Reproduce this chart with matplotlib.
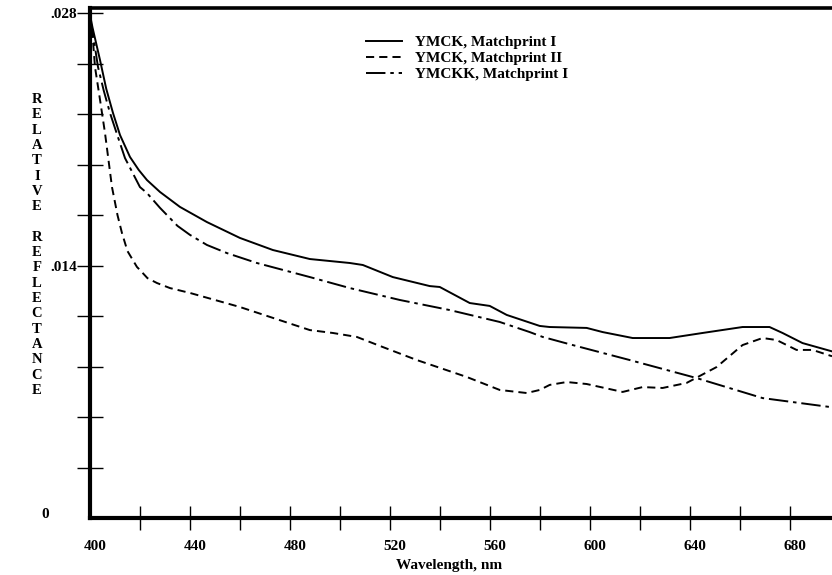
import matplotlib
matplotlib.use("Agg")
import matplotlib.pyplot as plt
import matplotlib.transforms as mtransforms

# reflectance spectra
wl_mp1 = [400, 401, 404, 406.5, 409.2, 412, 416, 419.5, 422.8, 428, 436, 446.8, 460,
          473.2, 488, 504, 509.2, 521.2, 536, 540, 552, 560, 566.8, 580, 584, 598.8,
          605.2, 617.2, 632, 645.2, 661.2, 672, 677.2, 685.2, 697]
r_mp1 = [0.0279, 0.0272, 0.0254, 0.0238, 0.02246, 0.02124, 0.02002, 0.01930, 0.01874,
         0.01808, 0.01725, 0.01641, 0.01553, 0.01486, 0.01436, 0.01414, 0.01403,
         0.01336, 0.01286, 0.01281, 0.01192, 0.01176, 0.01126, 0.01065, 0.01059,
         0.01054, 0.01031, 0.00998, 0.00998, 0.01026, 0.01059, 0.01059, 0.01026,
         0.00970, 0.00924]

wl_mp2 = [400, 401, 402, 404, 406, 408.8, 411, 412.8, 415, 418.8, 420, 423, 426.8, 432,
          440, 460, 488, 497.2, 506.8, 517.2, 530.8, 550.8, 564, 574.8, 580, 584,
          590.8, 598.8, 613.2, 621.2, 629.2, 638.8, 650.8, 661.2, 669.2, 674.8, 682.8,
          689.2, 697]
r_mp2 = [0.0278, 0.0268, 0.02501, 0.0232, 0.02135, 0.01835, 0.0168, 0.01580, 0.0148,
         0.01392, 0.01375, 0.01330, 0.01303, 0.01275, 0.01248, 0.01170, 0.01042,
         0.01026, 0.01004, 0.00948, 0.00876, 0.00782, 0.00710, 0.00693, 0.00710,
         0.00738, 0.00754, 0.00743, 0.00699, 0.00726, 0.00721, 0.00749, 0.00837,
         0.00959, 0.00998, 0.00987, 0.00932, 0.00932, 0.00897]

wl_kk = [400, 401, 403.2, 405.5, 408, 411, 414, 420, 422.8, 428, 435, 440, 446.8,
         454.8, 466.8, 488, 504, 524, 544, 564, 576, 581.2, 593.2, 616, 642.8, 669.2,
         697]
r_kk = [0.0277, 0.0270, 0.02501, 0.0237, 0.02246, 0.0212, 0.01996, 0.01835, 0.01802,
        0.0172, 0.0162, 0.0157, 0.01514, 0.01469, 0.01414, 0.01336, 0.01275, 0.01209,
        0.01153, 0.01087, 0.01031, 0.01004, 0.00959, 0.00876, 0.00776, 0.00665,
        0.00614]

series_names = ["YMCK, Matchprint I", "YMCK, Matchprint II", "YMCKK, Matchprint I"]
x_ticks = list(range(420, 700, 20))
x_labels = [400, 440, 480, 520, 560, 600, 640, 680]
y_ticks = [0.0028 * i for i in range(1, 11)]
y_labels = {0.014: ".014", 0.028: ".028"}

serif = ["Liberation Serif", "DejaVu Serif"]
plt.rcParams["font.family"] = serif
plt.rcParams["font.weight"] = "bold"

fig = plt.figure(figsize=(8.32, 5.75), dpi=100)
ax = fig.add_axes([90 / 832, 1 - 518 / 575, 1 - 90 / 832, 510 / 575])

ax.plot(wl_mp1, r_mp1, color="black", lw=1.4, label=series_names[0])
ax.plot(wl_mp2, r_mp2, color="black", lw=1.4, dashes=(4.2, 2.6), label=series_names[1])
ax.plot(wl_kk, r_kk, color="black", lw=1.4, dashes=(10, 2.5, 1.8, 2.5), label=series_names[2])

ax.set_xlim(400, 697)
ax.set_ylim(0, 0.02828)

for side in ("left", "bottom"):
    ax.spines[side].set_linewidth(3.0)
ax.spines["top"].set_linewidth(2.6)
ax.spines["right"].set_visible(False)

# ticks straddle the axis lines
ax.set_xticks(x_ticks)
ax.set_xticklabels([])
ax.tick_params(axis="x", direction="inout", length=17, width=1.0, color="black")
ax.set_yticks(y_ticks)
ax.set_yticklabels([y_labels.get(round(v, 4), "") for v in y_ticks])
ax.tick_params(axis="y", direction="inout", length=19, width=1.0, color="black",
               labelsize=11, pad=0)

xlab_tf = mtransforms.blended_transform_factory(ax.transData, fig.transFigure)
for v in x_labels:
    ax.text(v + 2, 1 - 547 / 575, str(v), transform=xlab_tf, ha="center", va="center",
            fontsize=11, fontweight="bold")

ylab_tf = mtransforms.blended_transform_factory(fig.transFigure, ax.transData)
ax.text(45 / 832, 0.0002, "0", transform=ylab_tf, ha="center", va="center",
        fontsize=11, fontweight="bold")

fig.text(449 / 832, 1 - 566 / 575, "Wavelength, nm", ha="center", va="center",
         fontsize=11, fontweight="bold")

ylabel = "\n".join("RELATIVE") + "\n\n" + "\n".join("REFLECTANCE")
fig.text(37 / 832, 1 - 245 / 575, ylabel, ha="center", va="center", fontsize=10.5,
         fontweight="bold", linespacing=1.23)

ax.legend(loc="upper left", bbox_to_anchor=(358 / 832, 1 - 28 / 575),
          bbox_transform=fig.transFigure, frameon=False, fontsize=11,
          handlelength=2.4, handletextpad=0.8, labelspacing=0.14, borderpad=0)

fig.savefig("out.png", dpi=100)
